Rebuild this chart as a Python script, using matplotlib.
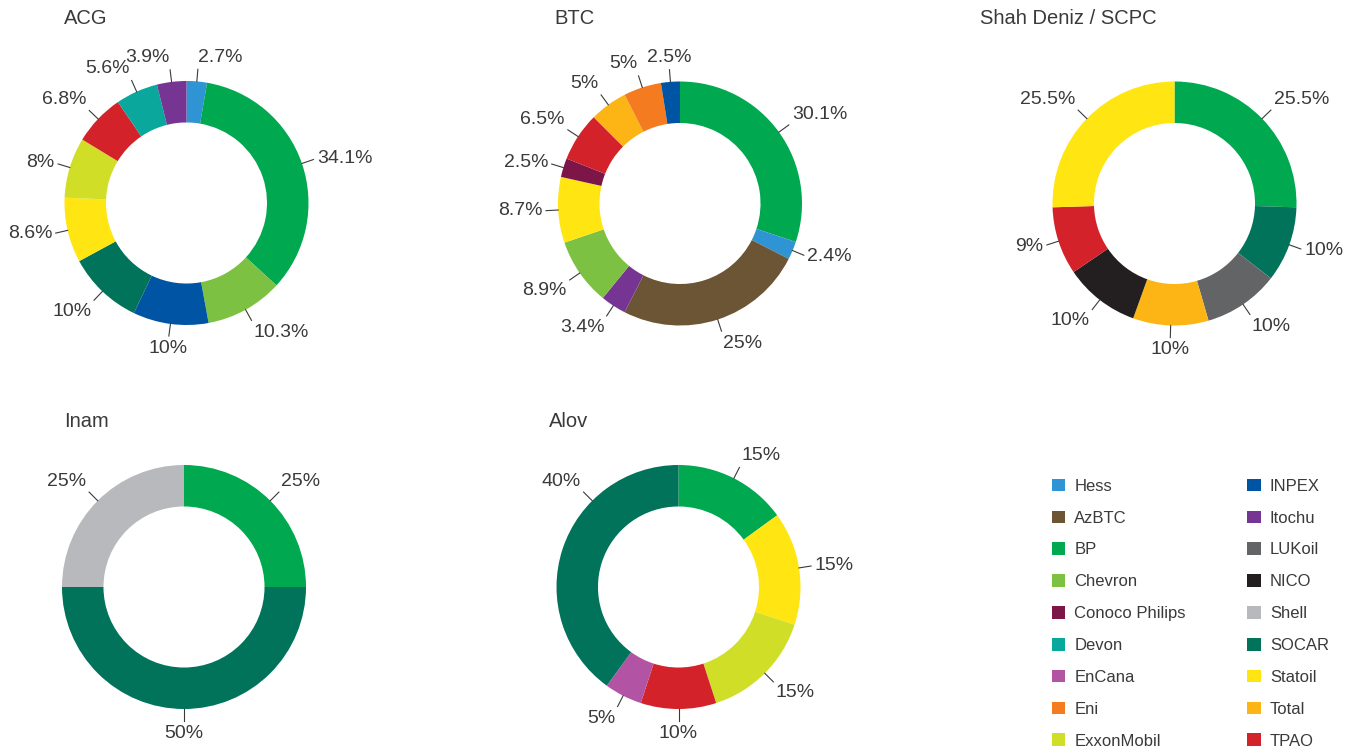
import numpy as np
import matplotlib
matplotlib.use("Agg")
import matplotlib.pyplot as plt
from matplotlib.patches import Patch

plt.rcParams["font.family"] = ["Liberation Sans", "DejaVu Sans"]
TXT = "#3a3a3a"

# company colours (legend order)
companies = ["Hess", "AzBTC", "BP", "Chevron", "Conoco Philips", "Devon", "EnCana", "Eni",
             "ExxonMobil", "INPEX", "Itochu", "LUKoil", "NICO", "Shell", "SOCAR", "Statoil",
             "Total", "TPAO"]
colours = ["#2e94d3", "#6b5535", "#00a84f", "#7dc142", "#7c1548", "#0aa89c", "#b254a3",
           "#f47b20", "#d1de27", "#0054a4", "#763592", "#636466", "#231f20", "#b8b9bc",
           "#00735a", "#ffe512", "#fdb515", "#d4222a"]
COL = dict(zip(companies, colours))

# shares, clockwise from 12 o'clock
acg_names = ["Hess", "BP", "Chevron", "INPEX", "SOCAR", "Statoil", "ExxonMobil", "TPAO",
             "Devon", "Itochu"]
acg_vals = [2.7, 34.1, 10.3, 10, 10, 8.6, 8, 6.8, 5.6, 3.9]

btc_names = ["BP", "Hess", "AzBTC", "Itochu", "Chevron", "Statoil", "Conoco Philips", "TPAO",
             "Total", "Eni", "INPEX"]
btc_vals = [30.1, 2.4, 25, 3.4, 8.9, 8.7, 2.5, 6.5, 5, 5, 2.5]

sd_names = ["BP", "SOCAR", "LUKoil", "Total", "NICO", "TPAO", "Statoil"]
sd_vals = [25.5, 10, 10, 10, 10, 9, 25.5]

inam_names = ["BP", "SOCAR", "Shell"]
inam_vals = [25, 50, 25]

alov_names = ["BP", "Statoil", "ExxonMobil", "TPAO", "EnCana", "SOCAR"]
alov_vals = [15, 15, 15, 10, 5, 40]

W, H = 1351, 751
fig = plt.figure(figsize=(W / 100, H / 100), dpi=100)
R = 122  # outer radius in px


def donut(cx, cy, names, vals, title, tx, ty, label_ang=None):
    label_ang = label_ang or {}
    size = 3 * R
    ax = fig.add_axes([(cx - size / 2) / W, (H - cy - size / 2) / H, size / W, size / H])
    ax.pie(vals, colors=[COL[n] for n in names], startangle=90, counterclock=False,
           radius=1.0, wedgeprops=dict(width=0.34, linewidth=0))
    ax.set_xlim(-1.5, 1.5)
    ax.set_ylim(-1.5, 1.5)
    ax.set_aspect("equal")
    ax.axis("off")
    cum = np.cumsum([0] + list(vals))
    for i, v in enumerate(vals):
        mid = (cum[i] + v / 2) / 100.0
        deg = label_ang.get(names[i], 90 - 360 * mid)
        th = np.deg2rad(deg)
        c, s = np.cos(th), np.sin(th)
        ax.plot([1.0 * c, 1.1 * c], [1.0 * s, 1.1 * s], color=TXT, lw=0.8, clip_on=False)
        lim = 0.08 if s > 0 else 0.25
        ha = "center" if abs(c) < lim else ("left" if c > 0 else "right")
        va = "bottom" if s > 0.5 else ("top" if s < -0.5 else "center")
        ax.text(1.13 * c, 1.13 * s, f"{v:g}%", ha=ha, va=va, fontsize=14, color=TXT,
                clip_on=False)
    fig.text(tx / W, 1 - ty / H, title, fontsize=14.5, color=TXT, ha="left", va="top")


donut(186.5, 203, acg_names, acg_vals, "ACG", 64, 9)
donut(680, 203.5, btc_names, btc_vals, "BTC", 554, 9)
donut(1174.5, 203.5, sd_names, sd_vals, "Shah Deniz / SCPC", 980, 9)
donut(184, 587, inam_names, inam_vals, "Inam", 64, 412)
donut(678.5, 587, alov_names, alov_vals, "Alov", 549, 412, label_ang={"SOCAR": 135})

handles = [Patch(facecolor=COL[n], edgecolor="none", label=n) for n in companies]
fig.legend(handles=handles, ncol=2, loc="upper left", bbox_to_anchor=(1045 / W, 1 - 472 / H),
           frameon=False, fontsize=12, handlelength=0.8, handleheight=0.8,
           handletextpad=0.55, labelspacing=1.0, columnspacing=3.7, labelcolor=TXT,
           borderaxespad=0.0)

fig.savefig("out.png", dpi=100)
